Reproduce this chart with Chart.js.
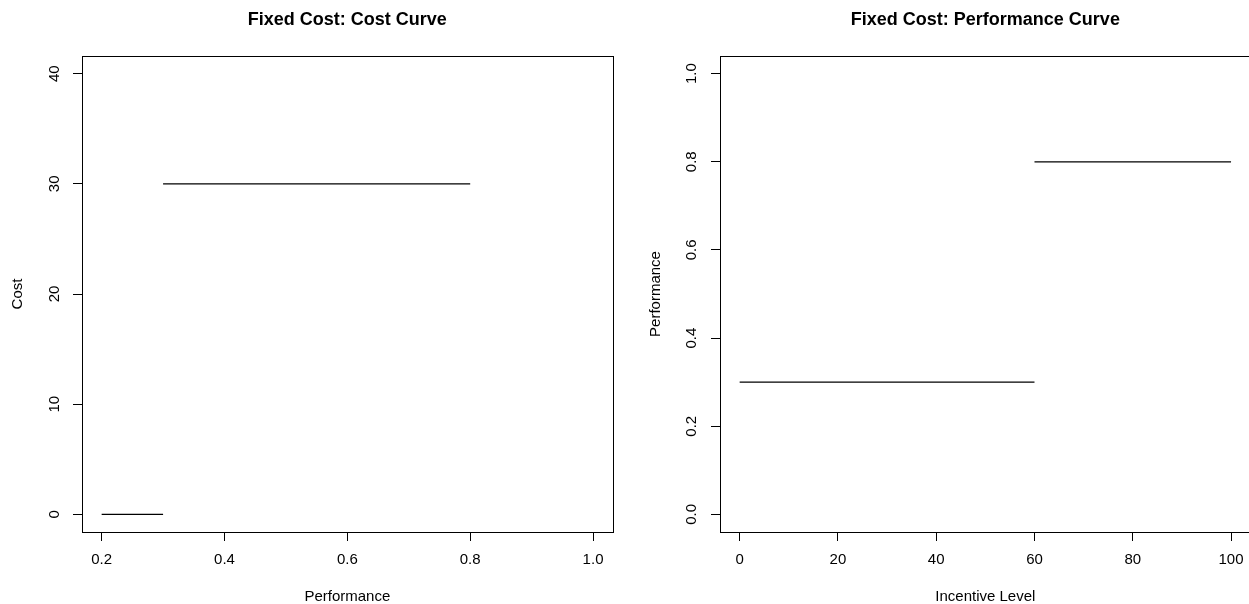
<!DOCTYPE html>
<html>
<head>
<meta charset="utf-8">
<script src="https://cdn.jsdelivr.net/npm/chart.js@4.4.1/dist/chart.umd.min.js"></script>
<style>
  html, body { margin: 0; padding: 0; background: #fff; overflow: hidden; }
  canvas { position: absolute; top: 0; }
  #costChart { left: 0; }
  #perfChart { left: 625px; }
</style>
</head>
<body>
<canvas id="costChart" width="625" height="604"></canvas>
<canvas id="perfChart" width="630" height="604"></canvas>
<script>
// left panel: cost vs performance (step segments)
const costSegX = [[0.2, 0.3], [0.3, 0.8]];
const costSegY = [0, 30];
const costXTicks = [0.2, 0.4, 0.6, 0.8, 1.0];
const costYTicks = [0, 10, 20, 30, 40];
const costXLim = [0.2, 1.0];
const costYLim = [0, 40];

// right panel: performance vs incentive level
const perfSegX = [[0, 60], [60, 100]];
const perfSegY = [0.3, 0.8];
const perfXTicks = [0, 20, 40, 60, 80, 100];
const perfYTicks = [0.0, 0.2, 0.4, 0.6, 0.8, 1.0];
const perfXLim = [0, 100];
const perfYLim = [0, 1];

Chart.defaults.font.family = "'Liberation Sans', Arial, Helvetica, sans-serif";
Chart.defaults.color = '#000';

// R style: full box round the plot region
const boxFrame = {
  id: 'boxFrame',
  afterDraw: (chart) => {
    const {ctx, chartArea: a} = chart;
    ctx.save();
    ctx.strokeStyle = '#000';
    ctx.lineWidth = 1;
    const l = Math.round(a.left) + 0.5, t = Math.round(a.top) + 0.5;
    ctx.strokeRect(l, t, Math.round(a.right) - Math.round(a.left), Math.round(a.bottom) - Math.round(a.top));
    ctx.restore();
  }
};

const segments = (xs, ys) => xs.map((pair, i) => ({
  data: pair.map(x => ({x: x, y: ys[i]})),
  borderColor: '#000',
  borderWidth: 1.3,
  pointRadius: 0,
  fill: false,
  tension: 0
}));

const axis = (tickVals, lim, digits, label, horizontal, size, tickPad, titlePad) => {
  const ext = 0.04 * (lim[1] - lim[0]);
  return {
    type: 'linear',
    position: horizontal ? 'bottom' : 'left',
    min: lim[0] - ext,
    max: lim[1] + ext,
    afterBuildTicks: (s) => { s.ticks = tickVals.map(v => ({value: v})); },
    afterFit: (s) => { if (horizontal) s.height = size; else s.width = size; },
    grid: { drawOnChartArea: false, drawTicks: true, tickLength: 9, color: '#000', lineWidth: 1 },
    border: { display: false },
    ticks: {
      autoSkip: false,
      font: { size: 15 },
      color: '#000',
      padding: tickPad,
      minRotation: horizontal ? 0 : 90,
      maxRotation: horizontal ? 0 : 90,
      crossAlign: horizontal ? 'near' : 'center',
      callback: (v) => Number(v).toFixed(digits)
    },
    title: {
      display: true,
      text: label,
      color: '#000',
      font: { size: 15, lineHeight: 1.2 },
      padding: horizontal ? { top: 0, bottom: -2 } : { top: titlePad, bottom: 0 }
    }
  };
};

const drawPanel = (id, title, xs, ys, xAxis, yAxis, padRight) => {
  new Chart(document.getElementById(id), {
    type: 'line',
    data: { datasets: segments(xs, ys) },
    options: {
      responsive: false,
      animation: false,
      devicePixelRatio: 1,
      layout: { padding: { left: 0, right: padRight, top: 0, bottom: 0 } },
      plugins: {
        legend: { display: false },
        tooltip: { enabled: false },
        title: {
          display: true,
          fullSize: false,
          text: title,
          color: '#000',
          font: { size: 18, weight: 'bold', lineHeight: 1.2 },
          padding: { top: 9.2, bottom: 25.2 }
        }
      },
      scales: { x: xAxis, y: yAxis }
    },
    plugins: [boxFrame]
  });
};

drawPanel('costChart', 'Fixed Cost: Cost Curve', costSegX, costSegY,
  axis(costXTicks, costXLim, 1, 'Performance', true, 72, 10),
  axis(costYTicks, costYLim, 0, 'Cost', false, 82, 9.7, 9),
  12.3);

drawPanel('perfChart', 'Fixed Cost: Performance Curve', perfSegX, perfSegY,
  axis(perfXTicks, perfXLim, 0, 'Incentive Level', true, 72, 10),
  axis(perfYTicks, perfYLim, 1, 'Performance', false, 95, 8.6, 22),
  4.3);
</script>
</body>
</html>
